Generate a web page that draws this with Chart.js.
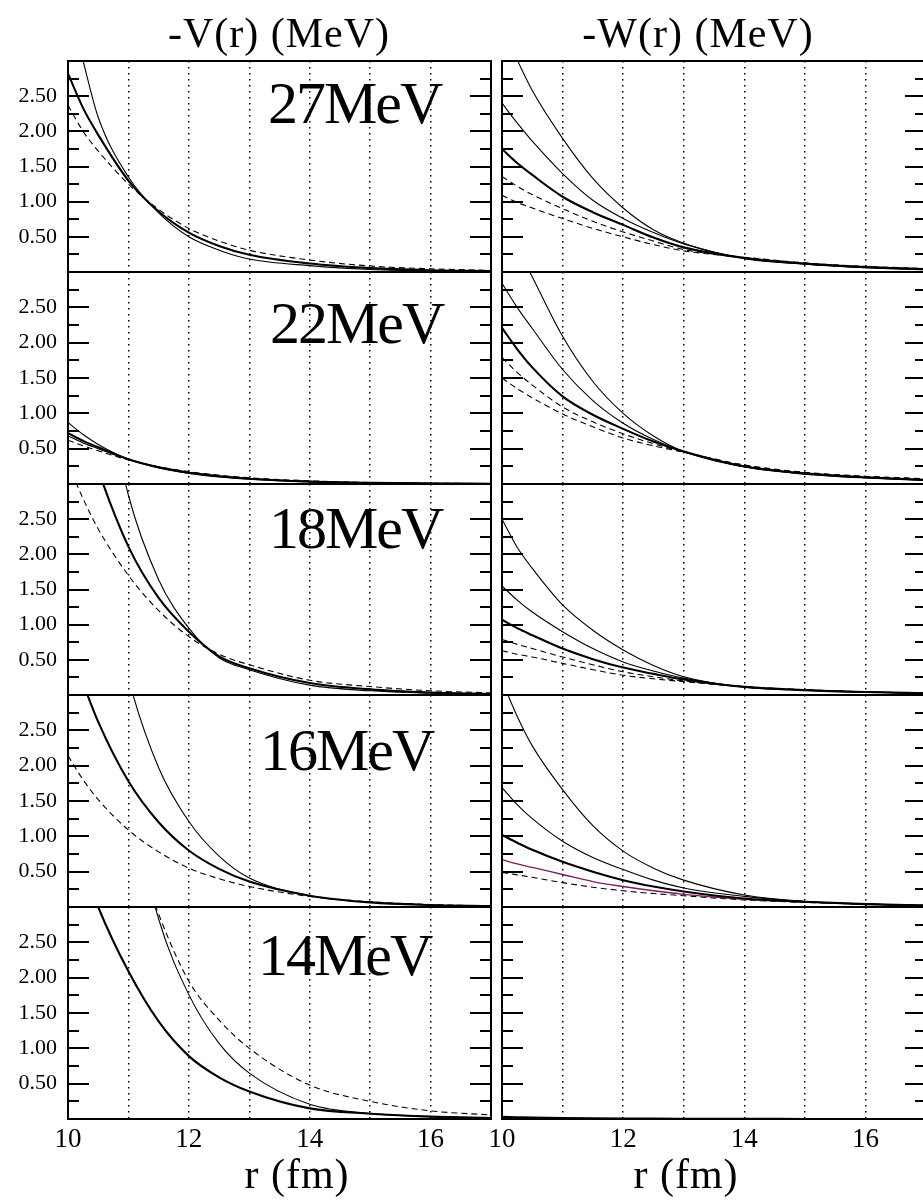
<!DOCTYPE html>
<html>
<head>
<meta charset="utf-8">
<title>-V(r) / -W(r)</title>
<script src="https://cdn.jsdelivr.net/npm/chart.js@4.4.1/dist/chart.umd.min.js"></script>
<style>
  html, body { margin: 0; padding: 0; background: #fff; }
  body { width: 923px; height: 1203px; overflow: hidden; position: relative;
         font-family: "Liberation Serif", "Times New Roman", serif; color: #000; }
  canvas { position: absolute; }
  .txt { position: absolute; white-space: nowrap; line-height: 1; z-index: 5; }
</style>
</head>
<body>
<script>
// Global look
Chart.defaults.font.family = '"Liberation Serif", "Times New Roman", serif';
Chart.defaults.color = '#000';

// r (fm) sample points shared by every curve
const R = [10, 10.25, 10.5, 11, 11.5, 12, 12.5, 13, 14, 15, 16, 17];

// 27 MeV
const v27ThinA = [3.85, 3.0, 2.2, 1.35, 0.84, 0.50, 0.31, 0.185, 0.09, 0.035, 0.015, 0.006];
const v27Thick = [2.82, 2.33, 1.95, 1.30, 0.86, 0.56, 0.37, 0.245, 0.12, 0.055, 0.025, 0.012];
const v27Dash  = [2.37, 2.0, 1.72, 1.25, 0.89, 0.62, 0.44, 0.31, 0.17, 0.085, 0.045, 0.022];
const w27ThinA = [3.52, 3.02, 2.58, 1.90, 1.33, 0.91, 0.60, 0.41, 0.19, 0.11, 0.06, 0.03];
const w27ThinB = [2.40, 2.12, 1.86, 1.40, 1.02, 0.76, 0.56, 0.40, 0.195, 0.115, 0.065, 0.035];
const w27Thick = [1.75, 1.55, 1.38, 1.07, 0.85, 0.67, 0.49, 0.35, 0.20, 0.12, 0.07, 0.04];
const w27DashA = [1.36, 1.22, 1.10, 0.90, 0.72, 0.57, 0.44, 0.32, 0.205, 0.125, 0.075, 0.045];
const w27DashB = [1.09, 0.99, 0.91, 0.76, 0.62, 0.50, 0.39, 0.30, 0.21, 0.13, 0.08, 0.05];

// 22 MeV
const v22ThinA = [0.87, 0.70, 0.56, 0.35, 0.23, 0.15, 0.10, 0.068, 0.03, 0.014, 0.006, 0.003];
const v22Thick = [0.72, 0.61, 0.52, 0.35, 0.235, 0.16, 0.11, 0.075, 0.035, 0.016, 0.008, 0.004];
const v22ThinB = [0.68, 0.58, 0.50, 0.345, 0.24, 0.165, 0.113, 0.078, 0.037, 0.018, 0.009, 0.004];
const v22Dash  = [0.62, 0.54, 0.47, 0.34, 0.245, 0.175, 0.125, 0.088, 0.045, 0.022, 0.011, 0.006];
const w22ThinA = [3.8, 3.35, 2.93, 2.09, 1.45, 1.00, 0.68, 0.46, 0.24, 0.14, 0.085, 0.05];
const w22ThinB = [2.84, 2.5, 2.2, 1.62, 1.18, 0.86, 0.63, 0.46, 0.245, 0.145, 0.09, 0.055];
const w22Thick = [2.21, 1.91, 1.65, 1.24, 0.98, 0.78, 0.60, 0.46, 0.25, 0.15, 0.095, 0.06];
const w22DashA = [1.79, 1.58, 1.40, 1.09, 0.88, 0.71, 0.57, 0.455, 0.265, 0.16, 0.105, 0.07];
const w22DashB = [1.50, 1.35, 1.22, 0.99, 0.81, 0.65, 0.54, 0.45, 0.27, 0.165, 0.11, 0.075];

// 18 MeV
const v18Dash  = [3.29, 2.79, 2.36, 1.70, 1.20, 0.83, 0.58, 0.43, 0.21, 0.12, 0.06, 0.03];
const v18Thick = [4.85, 3.9, 3.2, 2.11, 1.38, 0.90, 0.55, 0.38, 0.17, 0.08, 0.035, 0.015];
const v18Thin  = [8.4, 6.3, 4.9, 2.84, 1.64, 0.95, 0.53, 0.36, 0.14, 0.06, 0.025, 0.01];
const w18ThinA = [2.50, 2.1, 1.8, 1.28, 0.92, 0.64, 0.42, 0.26, 0.11, 0.07, 0.043, 0.025];
const w18ThinB = [1.55, 1.35, 1.18, 0.90, 0.66, 0.47, 0.34, 0.24, 0.115, 0.07, 0.043, 0.025];
const w18Thick = [1.07, 0.95, 0.85, 0.66, 0.51, 0.39, 0.30, 0.22, 0.115, 0.07, 0.043, 0.025];
const w18DashA = [0.79, 0.72, 0.66, 0.54, 0.43, 0.33, 0.26, 0.20, 0.12, 0.075, 0.045, 0.027];
const w18DashB = [0.63, 0.58, 0.54, 0.45, 0.36, 0.28, 0.23, 0.19, 0.12, 0.075, 0.046, 0.028];

// 16 MeV
const v16Thick = [3.8, 3.17, 2.62, 1.78, 1.20, 0.80, 0.54, 0.36, 0.16, 0.065, 0.028, 0.012];
const v16Thin  = [8.7, 6.8, 5.3, 3.24, 1.97, 1.21, 0.72, 0.41, 0.16, 0.065, 0.028, 0.012];
const v16Dash  = [2.14, 1.80, 1.52, 1.09, 0.78, 0.55, 0.40, 0.29, 0.15, 0.075, 0.035, 0.015];
const w16ThinA = [3.2, 2.7, 2.28, 1.66, 1.15, 0.79, 0.55, 0.38, 0.17, 0.078, 0.042, 0.02];
const w16ThinB = [1.69, 1.45, 1.25, 0.93, 0.70, 0.53, 0.38, 0.27, 0.15, 0.076, 0.042, 0.02];
const w16Thick = [1.02, 0.91, 0.81, 0.64, 0.50, 0.38, 0.29, 0.22, 0.12, 0.074, 0.041, 0.02];
const w16Purple = [0.67, 0.61, 0.56, 0.46, 0.36, 0.29, 0.23, 0.18, 0.11, 0.07, 0.04, 0.021];
const w16Dash  = [0.49, 0.455, 0.42, 0.345, 0.28, 0.23, 0.19, 0.16, 0.10, 0.065, 0.04, 0.025];

// 14 MeV
const v14Thick = [4.3, 3.6, 3.0, 2.09, 1.38, 0.89, 0.59, 0.39, 0.15, 0.075, 0.033, 0.015];
const v14Thin  = [12.7, 9.9, 7.7, 4.66, 2.83, 1.76, 1.07, 0.65, 0.21, 0.08, 0.035, 0.015];
const v14Dash  = [8.4, 7.0, 5.9, 4.17, 2.9, 1.95, 1.4, 1.0, 0.48, 0.25, 0.115, 0.057];
const w14Thick = [0.03, 0.025, 0.02, 0.014, 0.01, 0.007, 0.005, 0.004, 0.002, 0.001, 0.0005, 0.0003];

// Panel geometry (px)
const COL_X = [68, 502];
const COL_W = [423, 424];
const ROW_Y = [61, 272, 484, 695, 907];
const ROW_H = [211, 212, 211, 212, 212];

const lineStyles = {
  thin:   { width: 1.1, dash: [], color: '#000' },
  thick:  { width: 2.1, dash: [], color: '#000' },
  dash:   { width: 1.1, dash: [6, 4], color: '#000' },
  purple: { width: 1.3, dash: [], color: '#7b1d5e' }
};

const panels = [
  { col: 0, row: 0, energy: '27MeV', lx: 268, lb: 123, curves: [['thin', v27ThinA], ['thick', v27Thick], ['dash', v27Dash]] },
  { col: 1, row: 0, curves: [['thin', w27ThinA], ['thin', w27ThinB], ['thick', w27Thick], ['dash', w27DashA], ['dash', w27DashB]] },
  { col: 0, row: 1, energy: '22MeV', lx: 270, lb: 343, curves: [['thin', v22ThinA], ['thick', v22Thick], ['thin', v22ThinB], ['dash', v22Dash]] },
  { col: 1, row: 1, curves: [['thin', w22ThinA], ['thin', w22ThinB], ['thick', w22Thick], ['dash', w22DashA], ['dash', w22DashB]] },
  { col: 0, row: 2, energy: '18MeV', lx: 269, lb: 548, curves: [['dash', v18Dash], ['thick', v18Thick], ['thin', v18Thin]] },
  { col: 1, row: 2, curves: [['thin', w18ThinA], ['thin', w18ThinB], ['thick', w18Thick], ['dash', w18DashA], ['dash', w18DashB]] },
  { col: 0, row: 3, energy: '16MeV', lx: 260, lb: 770, curves: [['thick', v16Thick], ['thin', v16Thin], ['dash', v16Dash]] },
  { col: 1, row: 3, curves: [['thin', w16ThinA], ['thin', w16ThinB], ['thick', w16Thick], ['purple', w16Purple], ['dash', w16Dash]] },
  { col: 0, row: 4, energy: '14MeV', lx: 258, lb: 975, curves: [['thick', v14Thick], ['thin', v14Thin], ['dash', v14Dash]] },
  { col: 1, row: 4, curves: [['thick', w14Thick]] }
];

// frame with inward ticks on both sides
const framePlugin = {
  id: 'frame',
  afterDatasetsDraw(chart) {
    const { ctx, chartArea: a, scales: { y } } = chart;
    ctx.save();
    ctx.strokeStyle = '#000';
    ctx.lineWidth = 2;
    ctx.setLineDash([]);
    for (let k = 1; k < 12; k++) {
      const py = Math.round(y.getPixelForValue(k * 0.25));
      const len = k % 2 === 0 ? 21 : 11;
      ctx.beginPath();
      ctx.moveTo(a.left, py); ctx.lineTo(a.left + len, py);
      ctx.moveTo(a.right, py); ctx.lineTo(a.right - len, py);
      ctx.stroke();
    }
    ctx.strokeRect(a.left, a.top, a.right - a.left, a.bottom - a.top);
    ctx.restore();
  }
};

panels.forEach(p => {
  const bottomRow = p.row === 4;
  const padL = p.col === 0 ? 68 : 30;
  const padT = 32, padR = 20, padB = 32;
  const axisH = bottomRow ? 44 : 0;
  const width = padL + COL_W[p.col] + padR;
  const height = padT + ROW_H[p.row] + axisH + padB;

  const canvas = document.createElement('canvas');
  canvas.width = width;
  canvas.height = height;
  canvas.style.left = (COL_X[p.col] - padL) + 'px';
  canvas.style.top = (ROW_Y[p.row] - padT) + 'px';
  canvas.style.width = width + 'px';
  canvas.style.height = height + 'px';
  document.body.appendChild(canvas);

  new Chart(canvas, {
    type: 'line',
    data: {
      datasets: p.curves.map(([style, values]) => ({
        data: R.map((r, i) => ({ x: r, y: values[i] })),
        borderColor: lineStyles[style].color,
        borderWidth: lineStyles[style].width,
        borderDash: lineStyles[style].dash,
        pointRadius: 0,
        fill: false,
        cubicInterpolationMode: 'monotone',
        clip: 0
      }))
    },
    options: {
      responsive: false,
      animation: false,
      devicePixelRatio: 1,
      events: [],
      layout: { padding: { left: 0, top: padT, right: padR, bottom: padB } },
      plugins: { legend: { display: false }, tooltip: { enabled: false } },
      scales: {
        x: {
          type: 'linear',
          min: 10,
          max: 17,
          afterFit: s => { s.height = axisH; },
          grid: { color: '#000', lineWidth: 1.5, drawTicks: false },
          border: { display: false, dash: [1.5, 4.5] },
          ticks: {
            display: bottomRow,
            stepSize: 1,
            autoSkip: false,
            maxRotation: 0,
            padding: 5,
            font: { size: 27 },
            callback: v => (v % 2 === 0 ? String(v) : '')
          }
        },
        y: {
          min: 0,
          max: 3,
          afterFit: s => { s.width = padL; },
          grid: { display: false, drawTicks: false },
          border: { display: false },
          ticks: {
            display: p.col === 0,
            stepSize: 0.5,
            padding: 11,
            font: { size: 22 },
            callback: v => (v > 0 && v < 3 ? v.toFixed(2) : '')
          }
        }
      }
    },
    plugins: [framePlugin]
  });
});

// texts
function addText(str, x, baseline, size, spacing, centered) {
  const d = document.createElement('div');
  d.className = 'txt';
  d.textContent = str;
  d.style.fontSize = size + 'px';
  d.style.letterSpacing = spacing + 'px';
  d.style.left = x + 'px';
  d.style.top = (baseline - 0.8375 * size) + 'px';
  if (centered) d.style.transform = 'translateX(-50%)';
  document.body.appendChild(d);
}

addText('-V(r) (MeV)', 279, 47, 42, 1, true);
addText('-W(r) (MeV)', 698, 47, 42, 1, true);
addText('r (fm)', 297, 1188, 42, 1, true);
addText('r (fm)', 686, 1188, 42, 1, true);
panels.filter(p => p.energy).forEach(p => addText(p.energy, p.lx, p.lb, 60, -2, false));
</script>
</body>
</html>
